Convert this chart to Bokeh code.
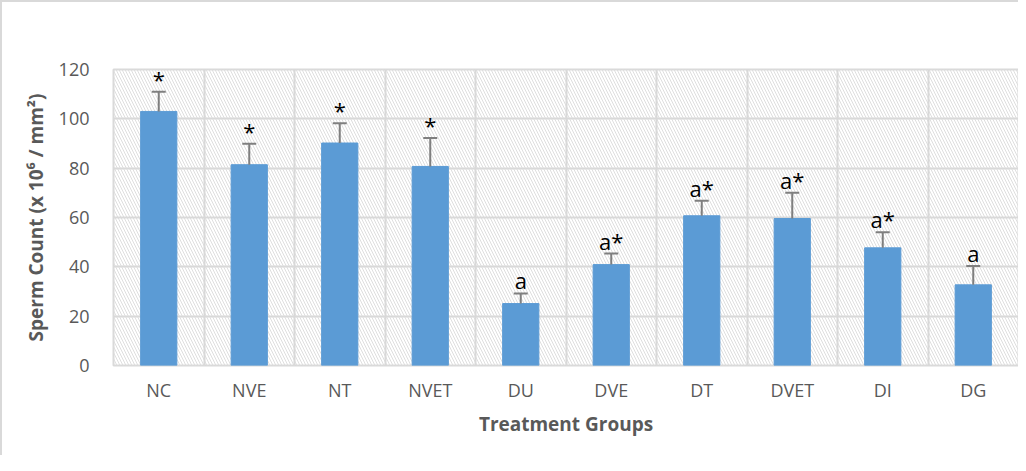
from bokeh.plotting import figure
from bokeh.models import ColumnDataSource, FixedTicker, BoxAnnotation, Whisker, Range1d
from bokeh.core.properties import value
from bokeh.embed import file_html
from bokeh.resources import INLINE

groups = ["NC", "NVE", "NT", "NVET", "DU", "DVE", "DT", "DVET", "DI", "DG"]
means = [103.0, 81.4, 90.2, 80.7, 25.1, 40.9, 60.7, 59.6, 47.7, 32.7]
errors = [8.0, 8.5, 8.0, 11.5, 4.1, 4.5, 6.1, 10.4, 6.3, 7.6]
marks = ["*", "*", "*", "*", "a", "a*", "a*", "a*", "a*", "a"]
y_ticks = [0, 20, 40, 60, 80, 100, 120]

xs = [i + 0.5 for i in range(len(groups))]
src = ColumnDataSource(dict(
    x=xs, top=means, err=errors,
    upper=[m + e for m, e in zip(means, errors)],
    base=means, mark=marks,
))

FONT = "Open Sans"
GREY = "#595959"

p = figure(width=1018, height=455, output_backend="svg", toolbar_location=None,
           x_range=Range1d(0, len(groups)), y_range=Range1d(0, 120),
           min_border_left=111, min_border_right=2, min_border_top=67, min_border_bottom=92)
p.styles = {"border-top": "2px solid #d9d9d9", "border-left": "2px solid #d9d9d9", "box-sizing": "border-box"}

bg = BoxAnnotation(fill_alpha=0, line_color=None, hatch_pattern="\\", hatch_color="#dedede",
                   hatch_scale=6, hatch_weight=1, level="image")
p.add_layout(bg)

p.vbar(x="x", top="top", width=0.4, bottom=0, source=src, fill_color="#5b9bd5",
       line_color="#5b9bd5")

w = Whisker(source=src, base="x", upper="upper", lower="base", dimension="height",
            line_color="#7f7f7f", line_width=2, level="glyph")
w.upper_head.size = 14
w.upper_head.line_color = "#7f7f7f"
w.upper_head.line_width = 2
w.lower_head.size = 0
w.lower_head.line_alpha = 0
p.add_layout(w)

p.text(x="x", y="upper", text="mark", source=src, text_align="center", text_baseline="bottom",
       y_offset=2, text_font=value(FONT), text_font_size="22px", text_color="black")

p.xaxis.ticker = FixedTicker(ticks=xs)
p.xaxis.major_label_overrides = {x: g for x, g in zip(xs, groups)}
p.yaxis.ticker = FixedTicker(ticks=y_ticks)
p.xgrid.ticker = FixedTicker(ticks=list(range(len(groups) + 1)))
for g in (p.xgrid, p.ygrid):
    g.grid_line_color = "#d9d9d9"
    g.grid_line_width = 2

for ax in (p.xaxis, p.yaxis):
    ax.axis_line_color = None
    ax.major_tick_line_color = None
    ax.minor_tick_line_color = None
    ax.major_label_text_font = FONT
    ax.major_label_text_font_size = "18px"
    ax.major_label_text_color = GREY
    ax.axis_label_text_font = FONT
    ax.axis_label_text_font_size = "19px"
    ax.axis_label_text_font_style = "bold"
    ax.axis_label_text_color = GREY

p.xaxis.axis_label = "Treatment Groups"
p.yaxis.axis_label = "Sperm Count (x 10\u2076 / mm\u00b2)"
p.xaxis.major_label_standoff = 6
p.yaxis.major_label_standoff = 18
p.xaxis.axis_label_standoff = 6
p.yaxis.axis_label_standoff = 7
p.outline_line_color = "#d9d9d9"
p.outline_line_width = 2

open("out.html", "w").write(file_html(p, INLINE))
